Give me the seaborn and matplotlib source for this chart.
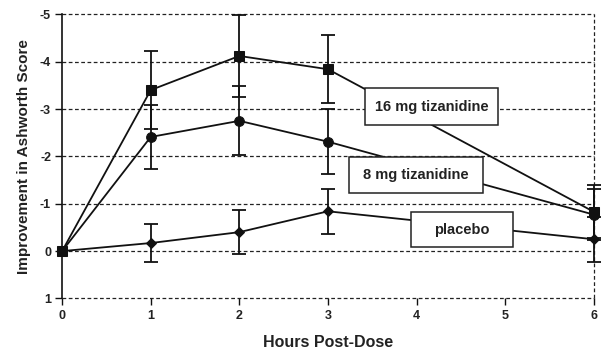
import pandas as pd
import numpy as np
import seaborn as sns
import matplotlib.pyplot as plt
from matplotlib.patches import Rectangle

# values (negative = improvement, axis is inverted)
hours = [0, 1, 2, 3, 6]
mg16 = [0.0, -3.40, -4.12, -3.84, -0.83]
mg16_err = [0.0, 0.83, 0.87, 0.72, 0.56]
mg8 = [0.0, -2.41, -2.75, -2.31, -0.77]
mg8_err = [0.0, 0.68, 0.73, 0.68, 0.54]
placebo = [0.0, -0.17, -0.40, -0.84, -0.25]
placebo_err = [0.0, 0.41, 0.47, 0.47, 0.48]

groups = ['16 mg tizanidine', '8 mg tizanidine', 'placebo']
markers = ['s', 'o', 'D']
msizes = [7.5, 7, 5]
# label boxes (x0, x1, y0, y1) in data units
boxes = [(3.42, 4.92, -3.44, -2.66), (3.24, 4.75, -1.98, -1.22), (3.94, 5.09, -0.82, -0.08)]

df = pd.DataFrame({
  'hours': hours * 3,
  'score': mg16 + mg8 + placebo,
  'err': mg16_err + mg8_err + placebo_err,
  'group': [g for g in groups for _ in hours],
})

sns.set_style('white')
plt.rcParams['font.family'] = ['Liberation Sans', 'DejaVu Sans']

fig = plt.figure(figsize=(6.09, 3.57), dpi=100)
ax = fig.add_axes([0.102, 0.164, 0.873, 0.796])

dash = (0, (3, 2))
for yv in range(-5, 2):
  ax.axhline(yv, color='#222222', lw=0.9, ls=dash, zorder=1, clip_on=False)
ax.axvline(6, color='#222222', lw=0.9, ls=dash, zorder=1, clip_on=False)

# draw placebo first, 16 mg last so its squares sit on top
for g, m, ms in list(zip(groups, markers, msizes))[::-1]:
  sub = df[df['group'] == g]
  eb = ax.errorbar(sub['hours'][1:], sub['score'][1:], yerr=sub['err'][1:], fmt='none',
                   ecolor='#111111', elinewidth=1.3, capsize=5, capthick=1.3, zorder=2)
  for art in eb.lines[1] + eb.lines[2]:
    art.set_clip_on(False)
  sns.lineplot(data=sub, x='hours', y='score', marker=m, markersize=ms, color='#111111',
               markeredgecolor='#111111', lw=1.3, ax=ax, legend=False, zorder=3)

for ln in ax.lines:
  ln.set_clip_on(False)

for g, (x0, x1, y0, y1) in zip(groups, boxes):
  ax.add_patch(Rectangle((x0, y0), x1 - x0, y1 - y0, facecolor='white', edgecolor='#222222',
                         lw=1.1, zorder=5))
  ax.text((x0 + x1) / 2, (y0 + y1) / 2, g, ha='center', va='center', fontsize=10.5,
          fontweight='bold', color='#222222', zorder=6)

ax.set_xlim(0, 6)
ax.set_ylim(1, -5)
ax.set_xticks(range(0, 7))
ax.set_yticks(range(-5, 2))
ax.set_yticklabels([str(v) for v in range(-5, 2)])
for s in ['top', 'right', 'bottom']:
  ax.spines[s].set_visible(False)
ax.spines['left'].set_color('#111111')
ax.spines['left'].set_linewidth(1.2)
ax.tick_params(axis='both', direction='out', length=5, width=1, color='#111111',
               labelsize=9, pad=3, left=True, bottom=True)
for lab in ax.get_xticklabels() + ax.get_yticklabels():
  lab.set_fontweight('bold')
  lab.set_color('#222222')

ax.set_xlabel('Hours Post-Dose', fontsize=11.5, fontweight='bold', color='#222222', labelpad=10)
ax.set_ylabel('Improvement in Ashworth Score', fontsize=11, fontweight='bold', color='#222222', labelpad=6)

fig.savefig('out.png', dpi=100)
